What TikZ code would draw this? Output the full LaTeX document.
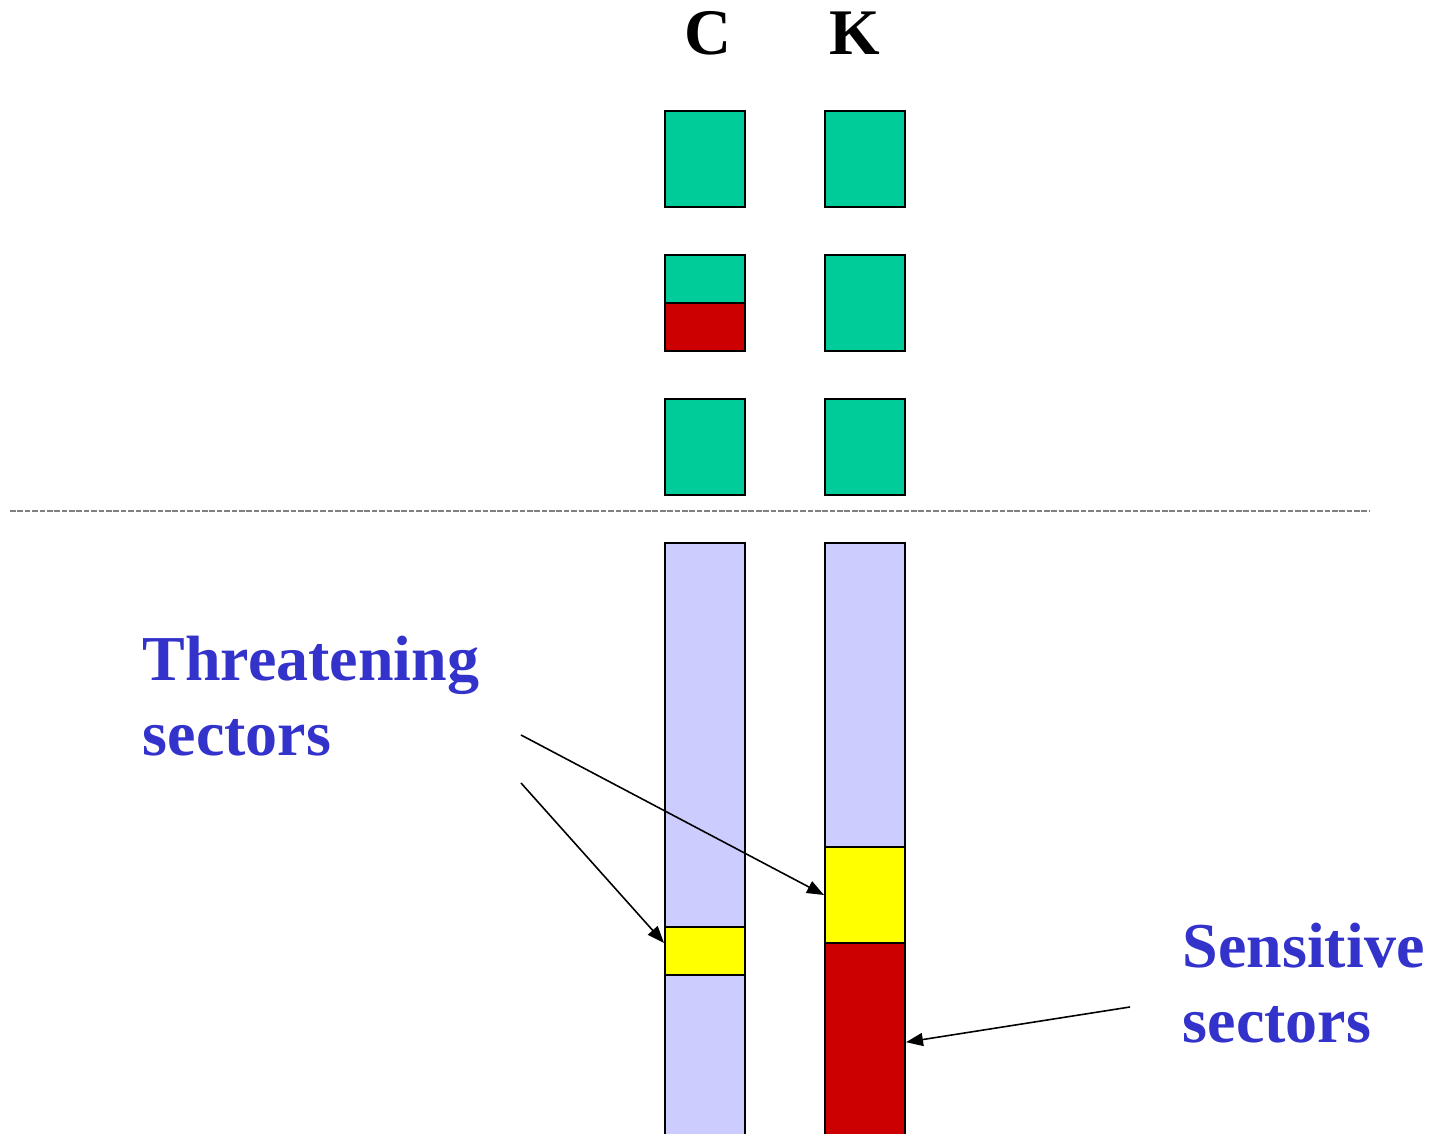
\documentclass[tikz,border=0pt]{standalone}
\usepackage{fontspec}
\setmainfont{Liberation Serif}
\usetikzlibrary{arrows.meta}
\definecolor{keep}{RGB}{0,204,153}
\definecolor{hurt}{RGB}{204,0,0}
\definecolor{warn}{RGB}{255,255,0}
\definecolor{lilac}{RGB}{204,204,255}
\definecolor{ink}{RGB}{51,51,204}

\begin{document}
\begin{tikzpicture}[x=0.01cm,y=-0.01cm,
    cell/.style={draw,line width=0.55pt,inner sep=0,minimum width=0.8cm},
    pointer/.style={-{Triangle[length=0.17cm,width=0.13cm]},line width=0.45pt},
    tag/.style={font=\bfseries\fontsize{18.2}{21.6}\selectfont,text=ink,align=left,inner sep=0}]
     \useasboundingbox (0,0) rectangle (1429,1134);
     \clip (0,0) rectangle (1429,1134);
     \node[font=\bfseries\fontsize{18.5}{20}\selectfont,anchor=base,inner sep=0] (colc) at (708,55) {C};
     \node[font=\bfseries\fontsize{18.5}{20}\selectfont,anchor=base,inner sep=0] (colk) at (855,55) {K};
     \node[cell,fill=keep,minimum height=0.96cm] (c1) at (705,159) {};
     \node[cell,fill=keep,minimum height=0.48cm] (c2a) at (705,279) {};
     \node[cell,fill=hurt,minimum height=0.48cm] (c2b) at (705,327) {};
     \node[cell,fill=keep,minimum height=0.96cm] (c3) at (705,447) {};
     \node[cell,fill=keep,minimum height=0.96cm] (k1) at (865,159) {};
     \node[cell,fill=keep,minimum height=0.96cm] (k2) at (865,303) {};
     \node[cell,fill=keep,minimum height=0.96cm] (k3) at (865,447) {};
     \coordinate (ruleleft) at (10,511);
     \coordinate (ruleright) at (1370,511);
     \draw[gray,line width=0.45pt,dash pattern=on 1.6pt off 0.5pt] (ruleleft) -- (ruleright);
     \node[cell,fill=lilac,minimum height=6.07cm] (cbar) at (705,846.5) {};
     \node[cell,fill=warn,minimum height=0.48cm] (cy) at (705,951) {};
     \node[cell,fill=lilac,minimum height=3.04cm] (kbar) at (865,695) {};
     \node[cell,fill=warn,minimum height=0.96cm] (ky) at (865,895) {};
     \node[cell,fill=hurt,minimum height=2.07cm] (kr) at (865,1046.5) {};
     \node[tag,anchor=base west] (threat) at (142,756) {Threatening\\sectors};
     \node[tag,anchor=base west] (sense) at (1182,1043) {Sensitive\\sectors};
     \coordinate (threatA) at (521,735);
     \coordinate (threatB) at (521,783);
     \coordinate (senseA) at (1130,1007);
     \draw[pointer] (threatA) -- (ky.west);
     \draw[pointer] (threatB) -- (cy.169);
     \draw[pointer] (senseA) -- (kr.6);
\end{tikzpicture}
\end{document}
